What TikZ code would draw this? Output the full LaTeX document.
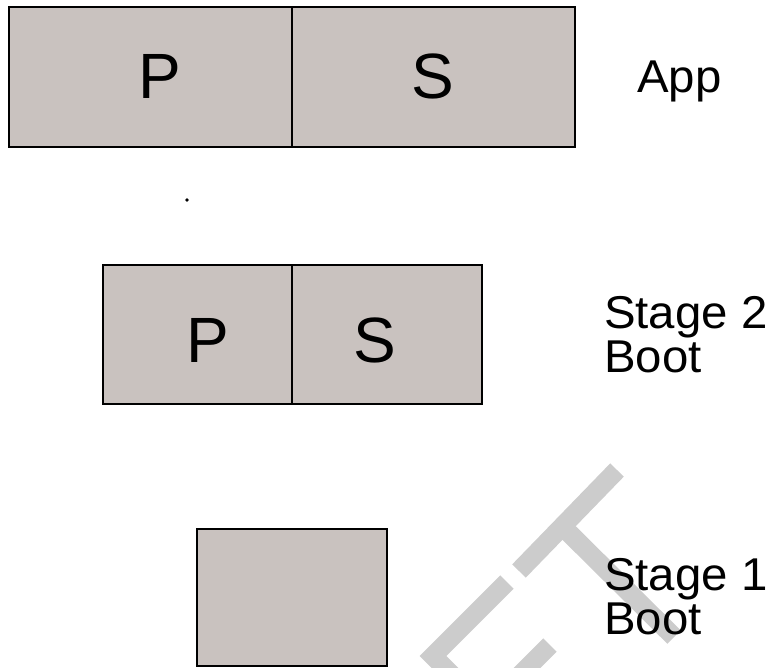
\documentclass[tikz,border=0pt]{standalone}
\usepackage{fontspec}
\setmainfont{Liberation Sans}
\newfontfamily\widefont[FakeStretch=1.03]{Liberation Sans}
\usepackage{tikz}
\usetikzlibrary{positioning}
\definecolor{boxgray}{RGB}{201,194,191}
\definecolor{wmgray}{RGB}{204,204,204}
\tikzset{
  part/.style={draw=black,line width=2pt,fill=boxgray,inner sep=0pt,anchor=north west},
  letter/.style={inner sep=0pt,font=\fontsize{64}{64}\selectfont},
  label/.style={inner sep=0pt,anchor=base west,font=\widefont\fontsize{46}{44}\selectfont},
  wm/.style={draw=wmgray,line width=19pt,line cap=butt,line join=miter}
}
\begin{document}
\begin{tikzpicture}[x=1pt,y=-1pt]
    \useasboundingbox (0,0) rectangle (774,667);
    \begin{scope}
    \clip (0,0) rectangle (774,667);
    % watermark strokes
    \draw[wm] (617,470) -- (519,571);
    \draw[wm] (562,526) -- (674,637);
    \draw[wm] (507,582) -- (433,656) -- (490,713);
    \draw[wm] (550,645) -- (500,695);
    \end{scope}
    % app
    \node[part,minimum width=283,minimum height=140] (appP) at (8,6) {};
    \node[part,minimum width=283,minimum height=140] (appS) at (291,6) {};
    \node[letter] (appPl) at (160,76) {P};
    \node[letter] (appSl) at (433,76) {S};
    \node[label] (app) at (637,92) {App};
    \fill (187,200) circle (1.8);
    % stage 2
    \node[part,minimum width=189,minimum height=139] (stTwoP) at (102,264) {};
    \node[part,minimum width=190,minimum height=139] (stTwoS) at (291,264) {};
    \node[letter] (stTwoPl) at (208,340) {P};
    \node[letter] (stTwoSl) at (375,340) {S};
    \node[label] (stTwo) at (604,328) {Stage 2};
    \node[label] (bootTwo) at (604,372) {Boot};
    % stage 1
    \node[part,minimum width=190,minimum height=137] (stOneBox) at (196,528) {};
    \node[label] (stOne) at (604,590) {Stage 1};
    \node[label] (bootOne) at (604,634) {Boot};
\end{tikzpicture}
\end{document}
